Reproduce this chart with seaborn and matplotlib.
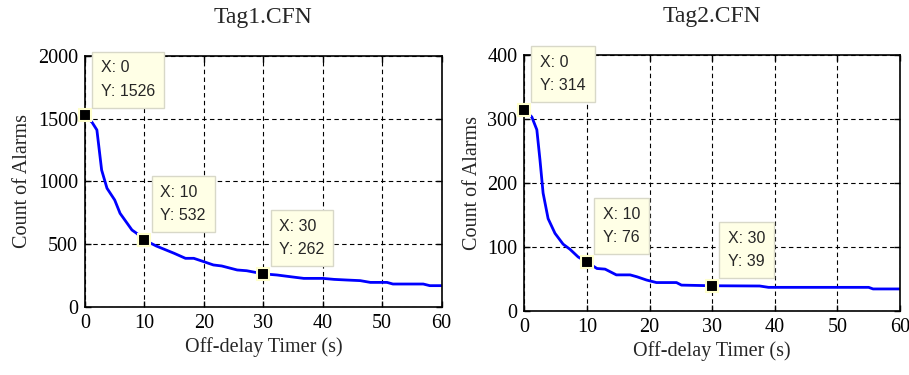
import matplotlib
matplotlib.use("Agg")
import matplotlib.pyplot as plt
import seaborn as sns
import pandas as pd

# ---- data ----
t1_x = [0, 1.2, 2, 2.8, 3.7, 5, 5.9, 7.9, 8.7, 10, 12, 15, 16.9, 18.3, 20, 21.6, 23, 25.6, 27.2,
        30, 32.3, 34.6, 36.8, 40, 41.9, 44, 46.3, 48, 50.8, 51.8, 56.9, 58, 60]
t1_y = [1526, 1470, 1410, 1090, 945, 851, 745, 612, 585, 532, 484, 426, 386, 386, 359, 333, 325, 293, 287,
        262, 253, 239, 226, 226, 218, 213, 208, 194, 194, 181, 181, 168, 168]

t2_x = [0, 1.2, 2, 2.5, 3, 3.8, 4.9, 6.2, 7.3, 8.6, 10, 11.6, 12.9, 14.7, 16.9, 18, 19.5, 21.1, 24.3,
        25.1, 30, 37.6, 39, 55, 55.7, 60]
t2_y = [314, 303, 283, 236, 184, 144, 121, 104, 96, 84, 76, 66, 65, 56, 56, 53, 48, 44, 44,
        40, 39, 38.6, 36.5, 36.5, 34, 34]

tips1_x = [0, 10, 30]
tips1_y = [1526, 532, 262]
tips2_x = [0, 10, 30]
tips2_y = [314, 76, 39]

titles = ["Tag1.CFN", "Tag2.CFN"]
ylims = [(0, 2000), (0, 400)]
yticks = [[0, 500, 1000, 1500, 2000], [0, 100, 200, 300, 400]]
xticks = [0, 10, 20, 30, 40, 50, 60]

sns.set_style("white")
plt.rcParams['font.family'] = ['Liberation Serif', 'DejaVu Serif']

fig = plt.figure(figsize=(9.09, 3.75), dpi=100)
ax1 = fig.add_axes([0.0935, 0.1821, 0.3924, 0.6686])
ax2 = fig.add_axes([0.5768, 0.1715, 0.4133, 0.682])

panels = [
    (ax1, t1_x, t1_y, tips1_x, tips1_y),
    (ax2, t2_x, t2_y, tips2_x, tips2_y),
]

for i, (ax, xs, ys, tx, ty) in enumerate(panels):
    df = pd.DataFrame({"x": xs, "y": ys})
    sns.lineplot(data=df, x="x", y="y", ax=ax, color="#0000FF", linewidth=2)
    ax.set_xlim(0, 60)
    ax.set_ylim(*ylims[i])
    ax.set_xticks(xticks)
    ax.set_yticks(yticks[i])
    ax.grid(True, color="black", linestyle=(0, (4, 3)), linewidth=0.8)
    for s in ax.spines.values():
        s.set_color("black")
        s.set_linewidth(1.2)
    ax.tick_params(direction="in", length=4, width=1, labelsize=14.5, pad=5, colors="black",
                   bottom=True, left=True, top=True, right=True)
    ax.set_xlabel("Off-delay Timer (s)", fontsize=14.5, labelpad=3)
    ax.set_ylabel("Count of Alarms", fontsize=14.5, labelpad=4)
    ax.set_title(titles[i], fontsize=17, pad=24)
    ax.plot(tx, ty, linestyle="none", marker="s", markersize=9,
            markerfacecolor="black", markeredgecolor="#FFFFCC", markeredgewidth=1.5,
            zorder=5, clip_on=False)
    for xv, yv in zip(tx, ty):
        ax.annotate(f"X: {xv}\nY: {yv}", xy=(xv, yv), xytext=(11.5, 12),
                    textcoords="offset points", ha="left", va="bottom",
                    fontsize=11.5, family=["Liberation Sans", "DejaVu Sans"],
                    linespacing=1.7, zorder=6, annotation_clip=False,
                    bbox=dict(boxstyle="square,pad=0.55", facecolor="#FFFFE6",
                              edgecolor="#D8D8C8", linewidth=1))

fig.savefig("out.png", dpi=100)
